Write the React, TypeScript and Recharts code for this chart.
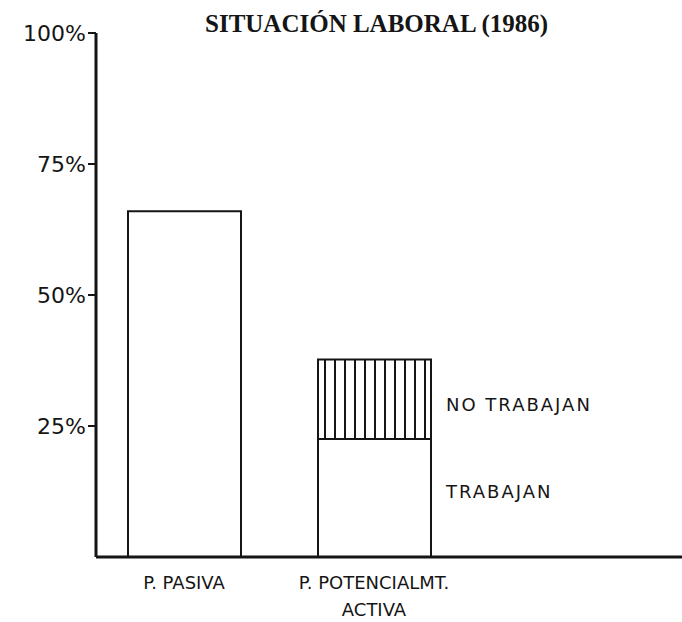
import React from 'react';
import { BarChart, Bar, XAxis, YAxis, LabelList } from 'recharts';

// categories along the x axis
const categories = ['P. PASIVA', 'P. POTENCIALMT. ACTIVA'];
// share of population in each group (%)
const pasivaValues = [66, null];
const trabajanValues = [null, 22.5];
const noTrabajanValues = [null, 15.2];
const yTicks = [25, 50, 75, 100];

const data = categories.map((cat, i) => ({
    cat,
    pasiva: pasivaValues[i],
    trabajan: trabajanValues[i],
    noTrabajan: noTrabajanValues[i],
}));

const INK = '#151515';
const HAND = '"DejaVu Sans", sans-serif';

const XTick = (props: any) => {
    const { x, y, payload } = props;
    const parts = payload.value === 'P. POTENCIALMT. ACTIVA' ? ['P. POTENCIALMT.', 'ACTIVA'] : [payload.value];
    return (
        <g>
            {parts.map((p: string, i: number) => (
                <text key={i} x={x} y={y + 24 + i * 27} textAnchor="middle" fontSize={18} fontFamily={HAND} fill={INK}>
                    {p}
                </text>
            ))}
        </g>
    );
};

const sideLabel = (text: string, dy: number) => (props: any) => {
    const { x, y, width, height, value } = props;
    if (value == null) return null;
    return (
        <text x={x + width + 15} y={y + height / 2 + dy} fontSize={18} letterSpacing={2} fontFamily={HAND} fill={INK}>
            {text}
        </text>
    );
};

export default function App() {
    return (
        <div style={{ position: 'absolute', left: 0, top: 0, width: 682, height: 622, background: '#fff' }}>
            <div
                style={{
                    position: 'absolute',
                    left: 205,
                    top: 10,
                    fontFamily: '"Liberation Serif", serif',
                    fontWeight: 'bold',
                    fontSize: 25,
                    whiteSpace: 'nowrap',
                    color: INK,
                }}
            >
                SITUACIÓN LABORAL (1986)
            </div>
            <BarChart
                width={682}
                height={622}
                data={data}
                margin={{ top: 33, right: 0, left: 0, bottom: 0 }}
                barSize={113}
            >
                <defs>
                    <pattern id="hatch" width="10" height="10" patternUnits="userSpaceOnUse">
                        <rect width="10" height="10" fill="#fff" />
                        <line x1="5" y1="0" x2="5" y2="10" stroke={INK} strokeWidth={2} />
                    </pattern>
                </defs>
                <XAxis
                    dataKey="cat"
                    padding={{ left: -7, right: 213 }}
                    tick={<XTick />}
                    tickLine={false}
                    axisLine={{ stroke: INK, strokeWidth: 3 }}
                    interval={0}
                    height={65}
                />
                <YAxis
                    domain={[0, 100]}
                    ticks={yTicks}
                    width={96}
                    tickFormatter={(v: number) => `${v}%`}
                    tick={{ fontSize: 22, fontFamily: HAND, fill: INK }}
                    tickLine={{ stroke: INK, strokeWidth: 2 }}
                    tickSize={8}
                    axisLine={{ stroke: INK, strokeWidth: 3 }}
                />
                <Bar dataKey="pasiva" stackId="a" fill="#fff" stroke={INK} strokeWidth={2} isAnimationActive={false} />
                <Bar dataKey="trabajan" stackId="a" fill="#fff" stroke={INK} strokeWidth={2} isAnimationActive={false}>
                    <LabelList dataKey="trabajan" content={sideLabel('TRABAJAN', 0)} />
                </Bar>
                <Bar dataKey="noTrabajan" stackId="a" fill="url(#hatch)" stroke={INK} strokeWidth={2} isAnimationActive={false}>
                    <LabelList dataKey="noTrabajan" content={sideLabel('NO TRABAJAN', 12)} />
                </Bar>
            </BarChart>
        </div>
    );
}
